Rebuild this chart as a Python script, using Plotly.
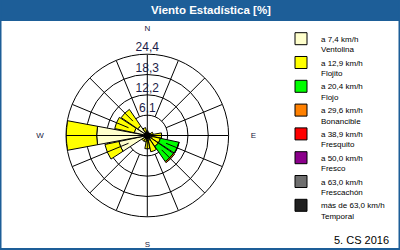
import plotly.graph_objects as go

# ---------------- data ----------------
directions = ["N", "NNE", "NE", "ENE", "E", "ESE", "SE", "SSE",
              "S", "SSW", "SW", "WSW", "W", "WNW", "NW", "NNW"]
dir_angles = [i * 22.5 for i in range(16)]

class_names = ["a 7,4 km/h<br>Ventolina", "a 12,9 km/h<br>Flojito",
               "a 20,4 km/h<br>Flojo", "a 29,6 km/h<br>Bonancible",
               "a 38,9 km/h<br>Fresquito", "a 50,0 km/h<br>Fresco",
               "a 63,0 km/h<br>Frescachón", "más de 63,0 km/h<br>Temporal"]
class_colors = ["#FFFFCC", "#FFFF00", "#00FF00", "#FF8000",
                "#FF0000", "#8B008B", "#6E6E6E", "#202020"]

ventolina  = [0.6, 0.5, 0.5, 0.8, 1.5, 1.5, 1.5, 1.5, 1.5, 1.2, 1.5, 8.7, 15.2, 4.0, 3.5, 1.2]
flojito    = [0.8, 0.3, 0.3, 1.0, 2.8, 2.5, 2.5, 3.5, 2.5, 0.8, 0.5, 4.3, 9.2, 6.0, 6.0, 1.2]
flojo      = [0, 0, 0, 0, 0, 5.7, 5.5, 0, 0, 0, 0, 0, 0, 0, 0, 0]
bonancible = [0, 0, 0, 0, 0, 0.1, 0.4, 0, 0, 0, 0, 0, 0, 0, 0, 0]
fresquito  = [0] * 16
fresco     = [0] * 16
frescachon = [0] * 16
temporal   = [0] * 16
series = [ventolina, flojito, flojo, bonancible, fresquito, fresco, frescachon, temporal]

ring_values = [6.1, 12.2, 18.3, 24.4]
ring_labels = ["6,1", "12,2", "18,3", "24,4"]
compass_vals = [0, 90, 180, 270]
compass_text = ["N", "E", "S", "W"]
footer_text = "5. CS 2016"
title_text = "Viento Estadística [%]"

# ---------------- figure ----------------
W, H = 400, 250
cx, cy, R = 147.3, 135.5, 81.3
fig = go.Figure()

# spokes
for a in dir_angles:
    r0 = 0 if a % 90 == 0 else ring_values[0]
    fig.add_trace(go.Scatterpolar(r=[r0, ring_values[-1]], theta=[a, a], mode="lines",
                                  line=dict(color="black", width=1), showlegend=False,
                                  hoverinfo="skip"))

# bars
for name, col, vals in zip(class_names, class_colors, series):
    fig.add_trace(go.Barpolar(r=vals, theta=dir_angles, name=name, width=21,
                              marker=dict(color=col, line=dict(color="black", width=1)),
                              showlegend=True))

# center disk
fig.add_trace(go.Scatterpolar(r=[0], theta=[0], mode="markers",
                              marker=dict(color="black", size=7), showlegend=False,
                              hoverinfo="skip"))
# ring labels
fig.add_trace(go.Scatterpolar(r=ring_values, theta=[0] * 4, mode="text", text=ring_labels,
                              textposition="top center",
                              textfont=dict(family="Liberation Sans", size=12, color="#1c1c48"),
                              showlegend=False, hoverinfo="skip", cliponaxis=False))

fig.update_layout(
    width=W, height=H, margin=dict(l=0, r=0, t=0, b=0),
    paper_bgcolor="white", plot_bgcolor="white",
    barmode="stack",
    polar=dict(
        domain=dict(x=[(cx - R) / W, (cx + R) / W], y=[(H - cy - R) / H, (H - cy + R) / H]),
        bgcolor="white",
        radialaxis=dict(range=[0, ring_values[-1]], tickvals=ring_values, showticklabels=False,
                        ticks="", showline=False, gridcolor="black", gridwidth=1),
        angularaxis=dict(rotation=90, direction="clockwise", showgrid=False,
                         showline=True, linecolor="black", linewidth=1,
                         tickvals=compass_vals, ticktext=compass_text, ticks="outside",
                         ticklen=20, tickcolor="rgba(0,0,0,0)",
                         tickfont=dict(family="Liberation Sans", size=8, color="#202040")),
    ),
    legend=dict(x=0.7025, y=1 - 27 / H, xanchor="left", yanchor="top",
                font=dict(family="Liberation Sans", size=8, color="black"),
                valign="top", tracegroupgap=0, bgcolor="rgba(0,0,0,0)"),
    showlegend=True,
)

# title bar and frame
fig.add_shape(type="rect", xref="paper", yref="paper", x0=0, x1=1, y0=1 - 21 / H, y1=1,
              fillcolor="#1d5e98", line=dict(width=0), layer="below")
fig.add_shape(type="rect", xref="paper", yref="paper", x0=0.5 / W, x1=1 - 0.5 / W,
              y0=1 / H, y1=1, fillcolor="rgba(0,0,0,0)",
              line=dict(color="#1d5e98", width=2))
fig.add_annotation(text="<b>" + title_text + "</b>", xref="paper", yref="paper",
                   x=211 / W, y=1 - 9.5 / H, yanchor="middle", showarrow=False,
                   font=dict(family="Liberation Sans", size=11.5, color="white"))
fig.add_annotation(text=footer_text, xref="paper", yref="paper", x=391 / W, y=1 - 240 / H,
                   xanchor="right", yanchor="middle", showarrow=False,
                   font=dict(family="Liberation Sans", size=11, color="black"))

fig.write_html("out.html")
